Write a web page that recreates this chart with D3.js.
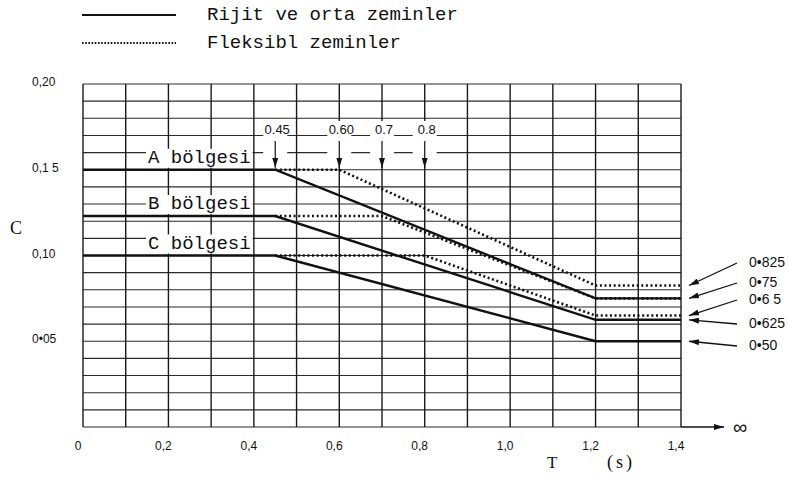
<!DOCTYPE html>
<html>
<head>
<meta charset="utf-8">
<script src="https://cdn.jsdelivr.net/npm/d3@7"></script>
<style>
  body { margin: 0; background: #fff; }
  svg { display: block; }
</style>
</head>
<body>
<div id="chart"></div>
<script>
// period values (s) where the curves break
const rigidT = [0, 0.45, 1.2, 1.4];
const rigidA = [0.15, 0.15, 0.075, 0.075];
const rigidB = [0.123, 0.123, 0.0625, 0.0625];
const rigidC = [0.10, 0.10, 0.05, 0.05];

const flexAT = [0.45, 0.60, 1.2, 1.4];
const flexA = [0.15, 0.15, 0.0825, 0.0825];
const flexBT = [0.45, 0.70, 1.2, 1.4];
const flexB = [0.123, 0.123, 0.075, 0.075];
const flexCT = [0.45, 0.80, 1.2, 1.4];
const flexC = [0.10, 0.10, 0.065, 0.065];

const zoneNames = ["A bölgesi", "B bölgesi", "C bölgesi"];
const zoneLevels = [0.15, 0.123, 0.10];

const cornerT = [0.45, 0.60, 0.7, 0.8];
const cornerLabels = ["0.45", "0.60", "0.7", "0.8"];

const endValues = [0.0825, 0.075, 0.065, 0.0625, 0.05];
const endLabels = ["0•825", "0•75", "0•6 5", "0•625", "0•50"];

const xTicks = [0, 0.2, 0.4, 0.6, 0.8, 1.0, 1.2, 1.4];
const xTickLabels = ["0", "0,2", "0,4", "0,6", "0,8", "1,0", "1,2", "1,4"];
const yTicks = [0.05, 0.10, 0.15, 0.20];
const yTickLabels = ["0•05", "0,10", "0,1 5", "0,20"];

const legendNames = ["Rijit ve orta zeminler", "Fleksibl zeminler"];

const W = 788, H = 495;
const mono = "'Liberation Mono', 'DejaVu Sans Mono', monospace";
const sans = "'Liberation Sans Narrow', 'Liberation Sans', Arial, sans-serif";
const serif = "'Liberation Serif', 'DejaVu Serif', serif";
const ink = "#111";

const x = d3.scaleLinear().domain([0, 1.4]).range([83, 681]);
const y = d3.scaleLinear().domain([0, 0.20]).range([427, 84]);

const svg = d3.select("#chart").append("svg")
  .attr("width", W).attr("height", H);

const defs = svg.append("defs");
defs.append("marker")
  .attr("id", "head")
  .attr("viewBox", "0 0 10 6")
  .attr("refX", 10).attr("refY", 3)
  .attr("markerWidth", 10).attr("markerHeight", 6)
  .attr("markerUnits", "userSpaceOnUse")
  .attr("orient", "auto")
  .append("path").attr("d", "M0,0 L10,3 L0,6 Z").attr("fill", ink);

// grid, 0.01 by 0.1
const grid = svg.append("g");
grid.selectAll(".h")
  .data(d3.range(0, 21).map(i => i / 100))
  .enter().append("line")
  .attr("x1", x(0)).attr("x2", x(1.4))
  .attr("y1", d => y(d)).attr("y2", d => y(d))
  .attr("stroke", "#2a2a2a").attr("stroke-width", 1.1);
grid.selectAll(".v")
  .data(d3.range(0, 15).map(i => i / 10))
  .enter().append("line")
  .attr("x1", d => x(d)).attr("x2", d => x(d))
  .attr("y1", y(0.20)).attr("y2", y(0))
  .attr("stroke", "#1a1a1a").attr("stroke-width", 1.4);

// T axis arrow
svg.append("line")
  .attr("x1", x(1.4)).attr("x2", 724)
  .attr("y1", y(0)).attr("y2", y(0))
  .attr("stroke", ink).attr("stroke-width", 1.4)
  .attr("marker-end", "url(#head)");
svg.append("text")
  .attr("x", 733).attr("y", y(0) + 7)
  .style("font-family", sans).style("font-size", "20px").attr("fill", ink)
  .text("∞");

// tick labels (the printed labels sit a little left of their grid lines)
svg.selectAll(".xt")
  .data(xTicks)
  .enter().append("text")
  .attr("x", d => x(d) - 5).attr("y", 450)
  .attr("text-anchor", "middle")
  .style("font-family", sans).style("font-size", "12px").attr("fill", ink)
  .text((d, i) => xTickLabels[i]);

svg.selectAll(".yt")
  .data(yTicks)
  .enter().append("text")
  .attr("x", 32).attr("y", d => y(d) + 2)
  .style("font-family", sans).style("font-size", "12px").attr("fill", ink)
  .text((d, i) => yTickLabels[i]);

svg.append("text").attr("x", 10).attr("y", 234)
  .style("font-family", serif).style("font-size", "18px").attr("fill", ink).text("C");
svg.append("text").attr("x", 547).attr("y", 468)
  .style("font-family", serif).style("font-size", "17px").attr("fill", ink).text("T");
svg.append("text").attr("x", 607).attr("y", 468)
  .style("font-family", serif).style("font-size", "18px")
  .style("letter-spacing", "3px").attr("fill", ink).text("(s)");

// corner period annotations
const ann = svg.append("g");
cornerT.forEach((t, i) => {
  ann.append("rect")
    .attr("x", x(t) - 12).attr("y", 121)
    .attr("width", 24).attr("height", 45)
    .attr("fill", "#fff");
  ann.append("text")
    .attr("x", x(t) + 2).attr("y", 134)
    .attr("text-anchor", "middle")
    .style("font-family", sans).style("font-size", "13px").attr("fill", ink)
    .text(cornerLabels[i]);
  ann.append("line")
    .attr("x1", x(t)).attr("x2", x(t))
    .attr("y1", 141).attr("y2", y(0.15) - 2)
    .attr("stroke", ink).attr("stroke-width", 1.2)
    .attr("marker-end", "url(#head)");
});

// zone labels with white backing
const zl = svg.append("g");
zoneNames.forEach((name, i) => {
  const t = zl.append("text")
    .attr("x", 148).attr("y", y(zoneLevels[i]) - 7)
    .style("font-family", mono).style("font-size", "19px").attr("fill", ink)
    .text(name);
  const b = t.node().getBBox();
  zl.insert("rect", "text")
    .attr("x", b.x - 2).attr("y", b.y + 2)
    .attr("width", b.width + 4).attr("height", b.height - 3)
    .attr("fill", "#fff");
});

// curves
const line = d3.line().x(d => x(d[0])).y(d => y(d[1]));
const zip = (ts, vs) => ts.map((t, i) => [t, vs[i]]);

const flexSeries = [zip(flexAT, flexA), zip(flexBT, flexB), zip(flexCT, flexC)];
const rigidSeries = [zip(rigidT, rigidA), zip(rigidT, rigidB), zip(rigidT, rigidC)];

svg.selectAll(".flex")
  .data(flexSeries)
  .enter().append("path")
  .attr("d", line)
  .attr("fill", "none").attr("stroke", ink)
  .attr("stroke-width", 2.6).attr("stroke-dasharray", "2,2.6");

svg.selectAll(".rigid")
  .data(rigidSeries)
  .enter().append("path")
  .attr("d", line)
  .attr("fill", "none").attr("stroke", ink)
  .attr("stroke-width", 2.4);

// end ratio labels and arrows
const labelY = [260, 280, 297, 321, 343];
endValues.forEach((v, i) => {
  svg.append("line")
    .attr("x1", 737).attr("y1", labelY[i] + 3)
    .attr("x2", x(1.4) + 8).attr("y2", y(v))
    .attr("stroke", ink).attr("stroke-width", 1.3)
    .attr("marker-end", "url(#head)");
  svg.append("text")
    .attr("x", 749).attr("y", labelY[i] + 7)
    .style("font-family", sans).style("font-size", "14px").attr("fill", ink)
    .text(endLabels[i]);
});

// legend
const legend = svg.append("g");
legendNames.forEach((name, i) => {
  const ly = 15 + i * 28;
  legend.append("line")
    .attr("x1", 82).attr("x2", 176)
    .attr("y1", ly).attr("y2", ly)
    .attr("stroke", ink)
    .attr("stroke-width", i === 0 ? 2 : 1.8)
    .attr("stroke-dasharray", i === 0 ? null : "1.6,1.6");
  legend.append("text")
    .attr("x", 207).attr("y", ly + 5)
    .style("font-family", mono).style("font-size", "19px").attr("fill", ink)
    .text(name);
});
</script>
</body>
</html>
